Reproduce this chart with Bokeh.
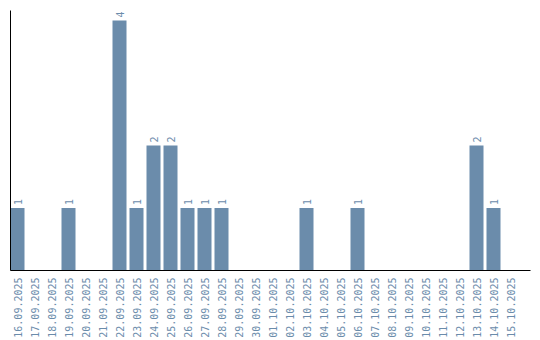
import math
from bokeh.plotting import figure
from bokeh.models import Range1d, FixedTicker, ColumnDataSource
from bokeh.core.properties import value
from bokeh.embed import file_html
from bokeh.resources import INLINE

dates = ["16.09.2025", "17.09.2025", "18.09.2025", "19.09.2025", "20.09.2025",
         "21.09.2025", "22.09.2025", "23.09.2025", "24.09.2025", "25.09.2025",
         "26.09.2025", "27.09.2025", "28.09.2025", "29.09.2025", "30.09.2025",
         "01.10.2025", "02.10.2025", "03.10.2025", "04.10.2025", "05.10.2025",
         "06.10.2025", "07.10.2025", "08.10.2025", "09.10.2025", "10.10.2025",
         "11.10.2025", "12.10.2025", "13.10.2025", "14.10.2025", "15.10.2025"]
counts = [1, 0, 0, 1, 0, 0, 4, 1, 2, 2, 1, 1, 1, 0, 0,
          0, 0, 1, 0, 0, 1, 0, 0, 0, 0, 0, 0, 2, 1, 0]

COLOR = "#6b8cab"
FONT = "DejaVu Sans Mono"

xs = list(range(len(dates)))
src = ColumnDataSource(dict(x=xs, y=counts))
nz = [i for i, c in enumerate(counts) if c > 0]
lsrc = ColumnDataSource(dict(x=[xs[i] for i in nz], y=[counts[i] for i in nz],
                             label=[str(counts[i]) for i in nz]))

slot = 17.0  # px per category
start = -7.0 / slot
p = figure(width=540, height=340, output_backend="svg", toolbar_location=None,
           x_range=Range1d(start, start + 520 / slot), y_range=Range1d(0, 4.16),
           min_border_left=10, min_border_right=10, min_border_top=10,
           min_border_bottom=0)
p.outline_line_color = None
p.grid.visible = False
p.background_fill_color = "white"

p.vbar(x="x", top="y", width=14 / slot, source=src, color=COLOR, line_color=None)
p.text(x="x", y="y", text="label", source=lsrc, angle=math.pi / 2,
       text_align="left", text_baseline="middle", y_offset=-3,
       text_font=value(FONT), text_font_size="10px", text_color=COLOR)

xa = p.xaxis[0]
xa.ticker = FixedTicker(ticks=xs)
xa.major_label_overrides = {x: d for x, d in zip(xs, dates)}
xa.major_label_orientation = math.pi / 2
xa.major_label_text_font = FONT
xa.major_label_text_font_size = "10px"
xa.major_label_text_color = COLOR
xa.major_tick_line_color = None
xa.minor_tick_line_color = None
xa.major_tick_out = 0
xa.major_tick_in = 0
xa.major_label_standoff = 7
xa.axis_line_color = "black"

ya = p.yaxis[0]
ya.ticker = FixedTicker(ticks=[])
ya.major_tick_line_color = None
ya.minor_tick_line_color = None
ya.major_tick_out = 0
ya.major_tick_in = 0
ya.minor_tick_out = 0
ya.major_label_standoff = 0
ya.axis_line_color = "black"

open("out.html", "w").write(file_html(p, INLINE))
